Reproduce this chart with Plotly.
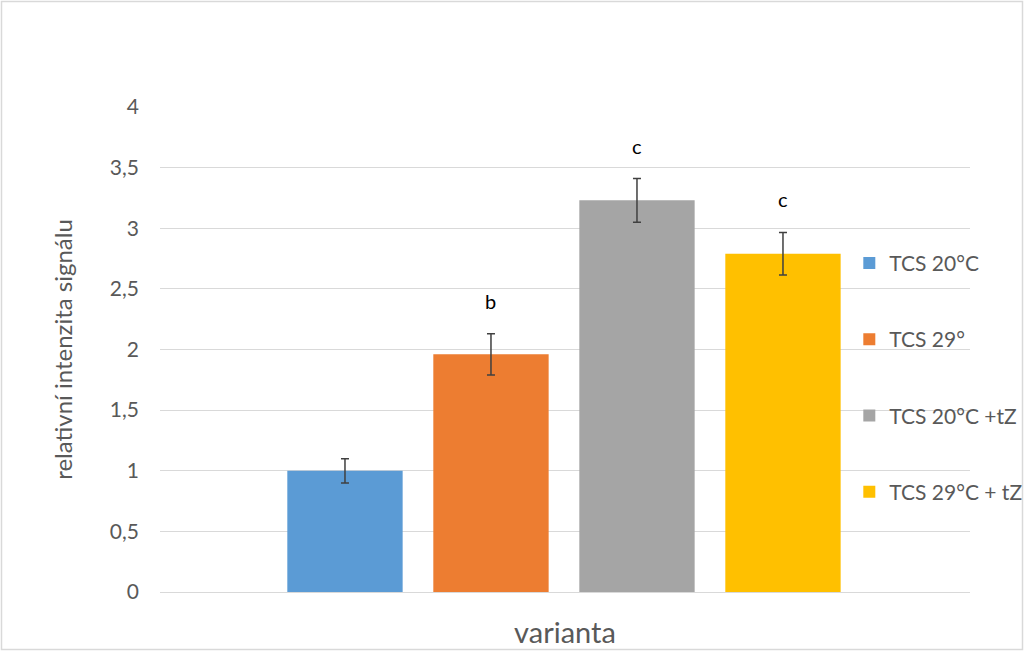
import plotly.graph_objects as go

# data
series = ["TCS 20°C", "TCS 29°", "TCS 20°C +tZ", "TCS 29°C + tZ"]
values = [1.0, 1.96, 3.23, 2.79]
errors = [0.10, 0.17, 0.18, 0.175]
letters = ["", "b", "c", "c"]
colors = ["#5B9BD5", "#ED7D31", "#A5A5A5", "#FFC000"]
y_ticks = [0, 0.5, 1, 1.5, 2, 2.5, 3, 3.5, 4]
y_tick_text = ["0", "0,5", "1", "1,5", "2", "2,5", "3", "3,5", "4"]

W, H = 1024, 651
ML, MR, MT, MB = 160, 54, 107, 59
text_col = "#595959"

fig = go.Figure()
for i, name in enumerate(series):
    fig.add_trace(go.Bar(
        x=[name], y=[values[i]], name=name,
        marker=dict(color=colors[i], line=dict(width=0)),
        width=0.79,
        error_y=dict(type="data", array=[errors[i]], color="#404040",
                     thickness=1.5, width=4),
        legendgroup=name,
    ))
    if letters[i]:
        fig.add_annotation(x=name, y=values[i] + errors[i], text=letters[i],
                           showarrow=False, yanchor="middle", yshift=33,
                           font=dict(size=20, color="#000000"))

# thin frame around the whole picture
pw, ph = W - ML - MR, H - MT - MB
fig.add_shape(type="rect", xref="paper", yref="paper",
              x0=-(ML - 1.5) / pw, x1=1 + (MR - 1.5) / pw,
              y0=-(MB - 1.5) / ph, y1=1 + (MT - 1.5) / ph,
              line=dict(color="#D9D9D9", width=1.5))

fig.update_layout(
    width=W, height=H,
    margin=dict(l=ML, r=MR, t=MT, b=MB, autoexpand=False),
    paper_bgcolor="white", plot_bgcolor="white",
    font=dict(family="Lato", color=text_col),
    barmode="overlay",
    showlegend=True,
    legend=dict(x=0.851, y=0.72, xanchor="left", yanchor="top",
                font=dict(size=21, color=text_col),
                bgcolor="rgba(0,0,0,0)", tracegroupgap=46,
                itemwidth=30),
    xaxis=dict(
        categoryorder="array", categoryarray=series,
        range=[-1.267, 4.281],
        showticklabels=False, showgrid=False, zeroline=False,
        title=dict(text="varianta", font=dict(size=29, color=text_col), standoff=30),
    ),
    yaxis=dict(
        range=[0, 4], tickvals=y_ticks, ticktext=y_tick_text,
        showgrid=True, gridcolor="#D9D9D9", gridwidth=1,
        zeroline=True, zerolinecolor="#D9D9D9", zerolinewidth=1,
        tickfont=dict(size=21, color=text_col),
        ticklabelstandoff=20,
        title=dict(text="relativní intenzita signálu",
                   font=dict(size=24, color=text_col), standoff=30),
    ),
)

fig.write_html("out.html", config={"displayModeBar": False},
               post_script="document.body.style.margin='0';")
